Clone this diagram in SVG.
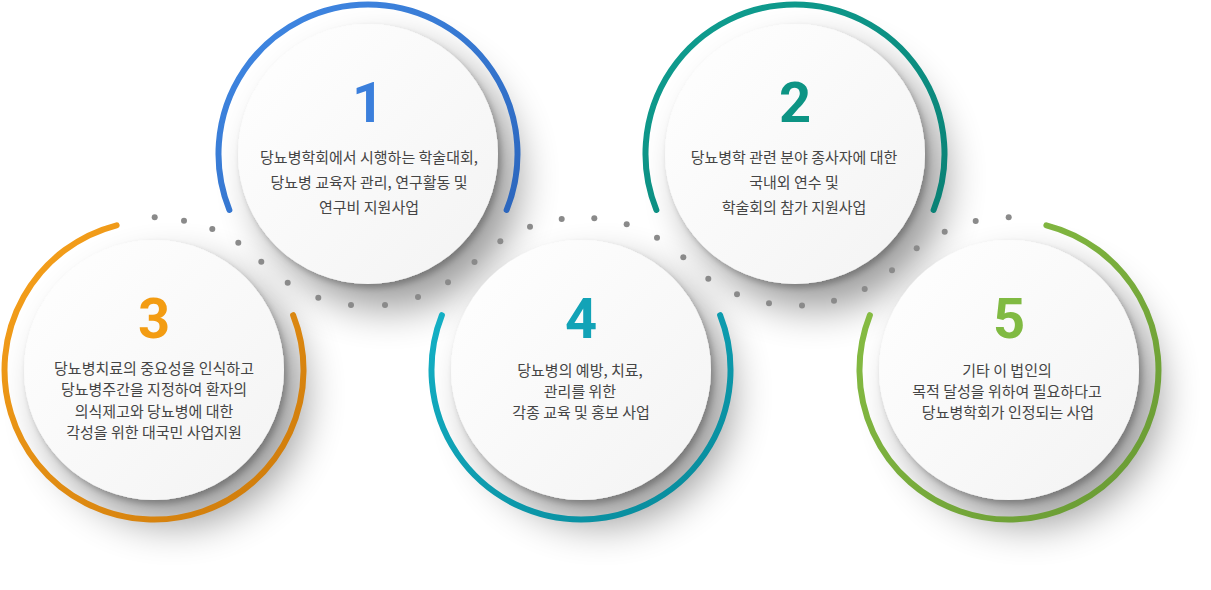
<svg xmlns="http://www.w3.org/2000/svg" width="1211" height="590" viewBox="0 0 1211 590">
  <defs>
    <style>
      .disc { fill: url(#discFill); filter: url(#shadow); }
      .ring { fill: none; stroke-width: 6; stroke-linecap: round; }
      .num { font-family: Roboto, "Liberation Sans", sans-serif; font-weight: 700; font-size: 56px; text-anchor: middle; }
      .txt { font-family: "Noto Sans CJK KR", "Noto Sans", sans-serif; font-size: 15px; fill: #454545; text-anchor: middle; }
      .dot { fill: #8a8a8a; }
    </style>
    <linearGradient id="discFill" x1="0" y1="0" x2="1" y2="1">
      <stop offset="0" stop-color="#ffffff"/>
      <stop offset="1" stop-color="#f3f3f3"/>
    </linearGradient>
    <linearGradient id="gBlue" x1="0" y1="0" x2="1" y2="1">
      <stop offset="0" stop-color="#418ae6"/>
      <stop offset="1" stop-color="#2c66bd"/>
    </linearGradient>
    <linearGradient id="gTeal" x1="0" y1="0" x2="1" y2="1">
      <stop offset="0" stop-color="#0fa092"/>
      <stop offset="1" stop-color="#0a8175"/>
    </linearGradient>
    <linearGradient id="gOrange" x1="0" y1="0" x2="1" y2="1">
      <stop offset="0" stop-color="#f8a21c"/>
      <stop offset="1" stop-color="#cc790a"/>
    </linearGradient>
    <linearGradient id="gCyan" x1="0" y1="0" x2="1" y2="1">
      <stop offset="0" stop-color="#14b0c5"/>
      <stop offset="1" stop-color="#078898"/>
    </linearGradient>
    <linearGradient id="gGreen" x1="0" y1="0" x2="1" y2="1">
      <stop offset="0" stop-color="#8bc245"/>
      <stop offset="1" stop-color="#679833"/>
    </linearGradient>
    <filter id="shadow" x="-40%" y="-40%" width="210%" height="210%">
      <feGaussianBlur in="SourceAlpha" stdDeviation="20" result="b1"/>
      <feOffset in="b1" dx="20" dy="24" result="o1"/>
      <feComponentTransfer in="o1" result="s1"><feFuncA type="linear" slope="0.4"/></feComponentTransfer>
      <feGaussianBlur in="SourceAlpha" stdDeviation="3" result="b2"/>
      <feOffset in="b2" dx="3" dy="4" result="o2"/>
      <feComponentTransfer in="o2" result="s2"><feFuncA type="linear" slope="0.25"/></feComponentTransfer>
      <feMerge><feMergeNode in="s1"/><feMergeNode in="s2"/><feMergeNode in="SourceGraphic"/></feMerge>
    </filter>
  </defs>
  <rect width="1211" height="590" fill="#ffffff"/>

  <g id="node-3">
    <circle class="disc" cx="154" cy="370" r="130"/>
    <path class="ring" stroke="url(#gOrange)" d="M 116.6 225.3 A 149.5 149.5 0 1 0 293.1 315.2"/>
    <text class="num" x="154" y="338" fill="#f39c12">3</text>
    <text class="txt" x="154" y="373.5">당뇨병치료의 중요성을 인식하고</text>
    <text class="txt" x="154" y="395">당뇨병주간을 지정하여 환자의</text>
    <text class="txt" x="154" y="416.5">의식제고와 당뇨병에 대한</text>
    <text class="txt" x="154" y="438">각성을 위한 대국민 사업지원</text>
  </g>

  <g id="node-1">
    <circle class="disc" cx="368" cy="154" r="130"/>
    <path class="ring" stroke="url(#gBlue)" d="M 229.4 210 A 149.5 149.5 0 1 1 506.6 210"/>
    <text class="num" x="368" y="122" fill="#3b7fdc">1</text>
    <text class="txt" x="369" y="162.5">당뇨병학회에서 시행하는 학술대회,</text>
    <text class="txt" x="369" y="187.5">당뇨병 교육자 관리, 연구활동 및</text>
    <text class="txt" x="369" y="212.5">연구비 지원사업</text>
  </g>

  <g id="node-4">
    <circle class="disc" cx="581" cy="370" r="130"/>
    <path class="ring" stroke="url(#gCyan)" d="M 441.9 315.2 A 149.5 149.5 0 1 0 720.1 315.2"/>
    <text class="num" x="581" y="338" fill="#12a3b7">4</text>
    <text class="txt" x="580" y="375.5">당뇨병의 예방, 치료,</text>
    <text class="txt" x="580" y="396.5">관리를 위한</text>
    <text class="txt" x="581" y="417.5">각종 교육 및 홍보 사업</text>
  </g>

  <g id="node-2">
    <circle class="disc" cx="795" cy="154" r="130"/>
    <path class="ring" stroke="url(#gTeal)" d="M 656.4 210 A 149.5 149.5 0 1 1 933.6 210"/>
    <text class="num" x="795" y="122" fill="#0d9484">2</text>
    <text class="txt" x="794" y="162.5">당뇨병학 관련 분야 종사자에 대한</text>
    <text class="txt" x="794" y="187.5">국내외 연수 및</text>
    <text class="txt" x="794" y="212.5">학술회의 참가 지원사업</text>
  </g>

  <g id="node-5">
    <circle class="disc" cx="1009" cy="370" r="130"/>
    <path class="ring" stroke="url(#gGreen)" d="M 1046.4 225.3 A 149.5 149.5 0 1 1 869.9 315.2"/>
    <text class="num" x="1009" y="338" fill="#80ba42">5</text>
    <text class="txt" x="1007" y="375.5">기타 이 법인의</text>
    <text class="txt" x="1007" y="396.5">목적 달성을 위하여 필요하다고</text>
    <text class="txt" x="1008" y="417.5">당뇨병학회가 인정되는 사업</text>
  </g>

  <g id="connectors">
    <circle class="dot" cx="154.7" cy="217.3" r="3"/>
    <circle class="dot" cx="184" cy="220.7" r="3"/>
    <circle class="dot" cx="212.3" cy="229" r="3"/>
    <circle class="dot" cx="238.3" cy="242.7" r="3"/>
    <circle class="dot" cx="261.3" cy="261.7" r="3"/>
    <circle class="dot" cx="287.7" cy="282.7" r="3"/>
    <circle class="dot" cx="318.3" cy="297.7" r="3"/>
    <circle class="dot" cx="351" cy="305" r="3"/>
    <circle class="dot" cx="385" cy="305" r="3"/>
    <circle class="dot" cx="418" cy="297" r="3"/>
    <circle class="dot" cx="448" cy="282.3" r="3"/>
    <circle class="dot" cx="474.5" cy="262" r="3"/>
    <circle class="dot" cx="500.3" cy="241.3" r="3"/>
    <circle class="dot" cx="530" cy="226.7" r="3"/>
    <circle class="dot" cx="561.7" cy="219" r="3"/>
    <circle class="dot" cx="594.3" cy="218.3" r="3"/>
    <circle class="dot" cx="626.7" cy="224.3" r="3"/>
    <circle class="dot" cx="657" cy="237.7" r="3"/>
    <circle class="dot" cx="683.3" cy="257.3" r="3"/>
    <circle class="dot" cx="708.3" cy="278.7" r="3"/>
    <circle class="dot" cx="737" cy="294.2" r="3"/>
    <circle class="dot" cx="769" cy="303.3" r="3"/>
    <circle class="dot" cx="802" cy="305.5" r="3"/>
    <circle class="dot" cx="834" cy="300.7" r="3"/>
    <circle class="dot" cx="864.7" cy="289" r="3"/>
    <circle class="dot" cx="892" cy="270.3" r="3"/>
    <circle class="dot" cx="916.7" cy="248.3" r="3"/>
    <circle class="dot" cx="944.7" cy="231.7" r="3"/>
    <circle class="dot" cx="975.7" cy="221" r="3"/>
    <circle class="dot" cx="1008.7" cy="217.3" r="3"/>
  </g>
</svg>
